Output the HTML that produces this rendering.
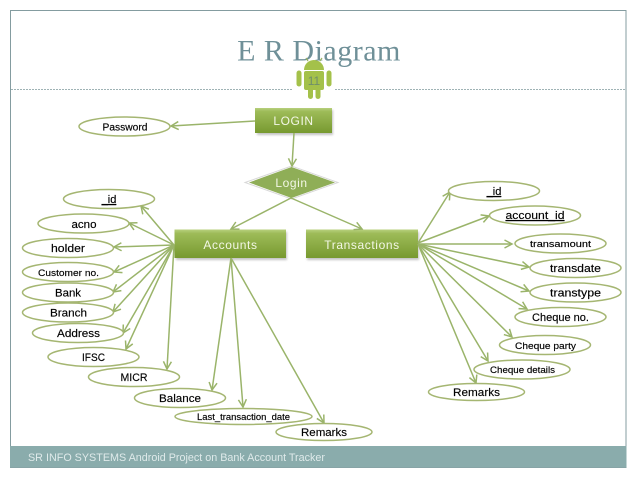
<!DOCTYPE html>
<html><head><meta charset="utf-8"><style>
html,body{margin:0;padding:0;background:#fff}
svg{display:block;filter:blur(.3px)}
text{font-family:"Liberation Sans",sans-serif}
.e{fill:#fff;stroke:#a5b672;stroke-width:1.5}
.l{stroke:#9ab46a;stroke-width:1.5;fill:none;marker-end:url(#a)}
.t{font-size:11px;fill:#000;text-anchor:middle;stroke:#000;stroke-width:.15}
.w{fill:#f3f7e6;text-anchor:middle;font-size:12px;letter-spacing:.6px}
</style></head><body>
<svg width="638" height="479" viewBox="0 0 638 479" xmlns="http://www.w3.org/2000/svg">
<defs>
<marker id="a" markerUnits="userSpaceOnUse" markerWidth="12" markerHeight="12" refX="8.500" refY="5" orient="auto"><path d="M1 1 L8.500 5 L1 9" fill="none" stroke="#9ab46a" stroke-width="1.5"/></marker>
<linearGradient id="g" x1="0" y1="0" x2="0" y2="1"><stop offset="0" stop-color="#b8d07e"/><stop offset=".14" stop-color="#9dbb58"/><stop offset="1" stop-color="#77992f"/></linearGradient>
<filter id="b" x="-10%" y="-20%" width="120%" height="150%"><feGaussianBlur stdDeviation="1"/></filter>
</defs>
<rect width="638" height="479" fill="#fff"/>
<rect x="10.500" y="10.500" width="615.500" height="457" fill="#fff" stroke="#849ca0" stroke-width="1"/>
<path d="M11 89.500H292M335 89.500H626" stroke="#9fb3b5" stroke-width="1" stroke-dasharray="2 1"/>
<rect x="10" y="446" width="616.500" height="21.500" fill="#8aacac"/>
<text x="28" y="461" font-size="11" textLength="297" lengthAdjust="spacingAndGlyphs" fill="#dfeaea">SR INFO SYSTEMS Android Project on Bank Account Tracker</text>
<text x="319" y="60.500" text-anchor="middle" style="font-family:'Liberation Serif',serif" font-size="30" letter-spacing=".5" fill="#6f9098">E R Diagram</text>
<g fill="#a4c14a">
<path d="M304 70a10 10 0 0 1 20 0z"/>
<rect x="304" y="71" width="20" height="19" rx="2"/>
<rect x="296.500" y="70.500" width="5" height="16" rx="2.500"/>
<rect x="326.500" y="70.500" width="5" height="16" rx="2.500"/>
<rect x="308" y="86" width="5" height="13" rx="2.500"/>
<rect x="315.500" y="86" width="5" height="13" rx="2.500"/>
</g>
<text x="314" y="85" text-anchor="middle" font-size="12" fill="#6f8f6a">11</text>
<g stroke="#98b265" stroke-width="1.2"><path d="M308 61l-2-3M320 61l2-3"/></g>
<rect x="257" y="110" width="76" height="25" fill="#888" opacity=".5" filter="url(#b)"/>
<rect x="255" y="108" width="77" height="25" fill="url(#g)"/>
<rect x="176" y="232" width="111" height="28" fill="#888" opacity=".5" filter="url(#b)"/>
<rect x="174.500" y="229.500" width="111.500" height="28.500" fill="url(#g)"/>
<rect x="307" y="232" width="112" height="28" fill="#888" opacity=".5" filter="url(#b)"/>
<rect x="306" y="229.500" width="112" height="28.500" fill="url(#g)"/>
<path d="M245 182.500L291.500 166L338 182.500L291.500 199Z" fill="#fff" stroke="#d8d8d8" stroke-width="1"/>
<path d="M249 182.500L291.500 167L335 182.500L291.500 198Z" fill="#8fae57"/>
<text class="w" x="293.500" y="125">LOGIN</text>
<text class="w" x="291.500" y="187">Login</text>
<text class="w" x="230.500" y="249">Accounts</text>
<text class="w" x="362" y="249">Transactions</text>
<path class="l" d="M255 121L171 126"/>
<path class="l" d="M294 133L292 166"/>
<path class="l" d="M291 198L231 229"/>
<path class="l" d="M291 198L362 229"/>
<path class="l" d="M174 245L141 206"/>
<path class="l" d="M174 245L129 223"/>
<path class="l" d="M174 245L114 247"/>
<path class="l" d="M174 245L114 272"/>
<path class="l" d="M174 245L113 292"/>
<path class="l" d="M174 245L113 312"/>
<path class="l" d="M174 245L123 333"/>
<path class="l" d="M174 245L126 349"/>
<path class="l" d="M174 245L167 369"/>
<path class="l" d="M231 258L212 390"/>
<path class="l" d="M231 258L243 407"/>
<path class="l" d="M231 258L324 423"/>
<path class="l" d="M418 243L450 192"/>
<path class="l" d="M418 243L489 216"/>
<path class="l" d="M418 244L512 244"/>
<path class="l" d="M418 244L529 267"/>
<path class="l" d="M418 244L529 291"/>
<path class="l" d="M418 244L527 309"/>
<path class="l" d="M418 244L512 337"/>
<path class="l" d="M418 244L488 361"/>
<path class="l" d="M418 244L476 383"/>
<ellipse class="e" cx="124.500" cy="126.500" rx="45.500" ry="9.500"/><text class="t" x="125" y="130.500" textLength="45" lengthAdjust="spacingAndGlyphs" style="font-size:10px">Password</text>
<ellipse class="e" cx="109" cy="199" rx="45.500" ry="9.500"/><text class="t" x="109" y="203" text-decoration="underline">_id</text>
<ellipse class="e" cx="83.500" cy="223.500" rx="45.500" ry="9.500"/><text class="t" x="84" y="228" textLength="25" lengthAdjust="spacingAndGlyphs">acno</text>
<ellipse class="e" cx="68" cy="248" rx="45.500" ry="9.500"/><text class="t" x="68" y="252" textLength="34" lengthAdjust="spacingAndGlyphs">holder</text>
<ellipse class="e" cx="68" cy="272" rx="45.500" ry="9.500"/><text class="t" x="68.500" y="276" textLength="61" lengthAdjust="spacingAndGlyphs" style="font-size:9.500px">Customer no.</text>
<ellipse class="e" cx="68" cy="292.500" rx="45.500" ry="9.500"/><text class="t" x="68" y="296.500" textLength="26" lengthAdjust="spacingAndGlyphs">Bank</text>
<ellipse class="e" cx="68" cy="312.500" rx="45.500" ry="9.500"/><text class="t" x="68.500" y="316.500" textLength="37" lengthAdjust="spacingAndGlyphs">Branch</text>
<ellipse class="e" cx="78" cy="333" rx="45.500" ry="9.500"/><text class="t" x="78.500" y="337" textLength="43" lengthAdjust="spacingAndGlyphs">Address</text>
<ellipse class="e" cx="93.500" cy="357" rx="45.500" ry="9.500"/><text class="t" x="93.500" y="361" textLength="23" lengthAdjust="spacingAndGlyphs">IFSC</text>
<ellipse class="e" cx="134" cy="377" rx="45.500" ry="9.500"/><text class="t" x="134" y="381" textLength="27" lengthAdjust="spacingAndGlyphs">MICR</text>
<ellipse class="e" cx="180" cy="398" rx="45.500" ry="9.500"/><text class="t" x="180" y="402" textLength="42" lengthAdjust="spacingAndGlyphs">Balance</text>
<ellipse class="e" cx="243.500" cy="416.500" rx="68.500" ry="8"/><text class="t" x="243.500" y="420" textLength="93" lengthAdjust="spacingAndGlyphs" style="font-size:9px">Last_transaction_date</text>
<ellipse class="e" cx="324" cy="432" rx="48" ry="8.500"/><text class="t" x="324" y="436" textLength="46" lengthAdjust="spacingAndGlyphs">Remarks</text>
<ellipse class="e" cx="494" cy="191" rx="45.500" ry="9.500"/><text class="t" x="494" y="195" text-decoration="underline">_id</text>
<ellipse class="e" cx="535" cy="215.500" rx="45.500" ry="9.500"/><text class="t" x="535" y="219" textLength="59" lengthAdjust="spacingAndGlyphs" text-decoration="underline">account_id</text>
<ellipse class="e" cx="560.500" cy="243.500" rx="45.500" ry="9.500"/><text class="t" x="560.500" y="247" textLength="61" lengthAdjust="spacingAndGlyphs" style="font-size:9px">transamount</text>
<ellipse class="e" cx="575.500" cy="268" rx="45.500" ry="9.500"/><text class="t" x="575.500" y="272" textLength="51" lengthAdjust="spacingAndGlyphs">transdate</text>
<ellipse class="e" cx="575.500" cy="292.500" rx="45.500" ry="9.500"/><text class="t" x="575.500" y="296.500" textLength="51" lengthAdjust="spacingAndGlyphs">transtype</text>
<ellipse class="e" cx="560.500" cy="317" rx="45.500" ry="9.500"/><text class="t" x="560.500" y="321" textLength="57" lengthAdjust="spacingAndGlyphs">Cheque no.</text>
<ellipse class="e" cx="545" cy="345" rx="45.500" ry="9.500"/><text class="t" x="545.500" y="349" textLength="61" lengthAdjust="spacingAndGlyphs" style="font-size:9px">Cheque party</text>
<ellipse class="e" cx="522" cy="369.500" rx="48" ry="9.500"/><text class="t" x="522.500" y="373" textLength="65" lengthAdjust="spacingAndGlyphs" style="font-size:9px">Cheque details</text>
<ellipse class="e" cx="476.500" cy="392" rx="48" ry="8.500"/><text class="t" x="476.500" y="396" textLength="47" lengthAdjust="spacingAndGlyphs">Remarks</text>
</svg>
</body></html>
